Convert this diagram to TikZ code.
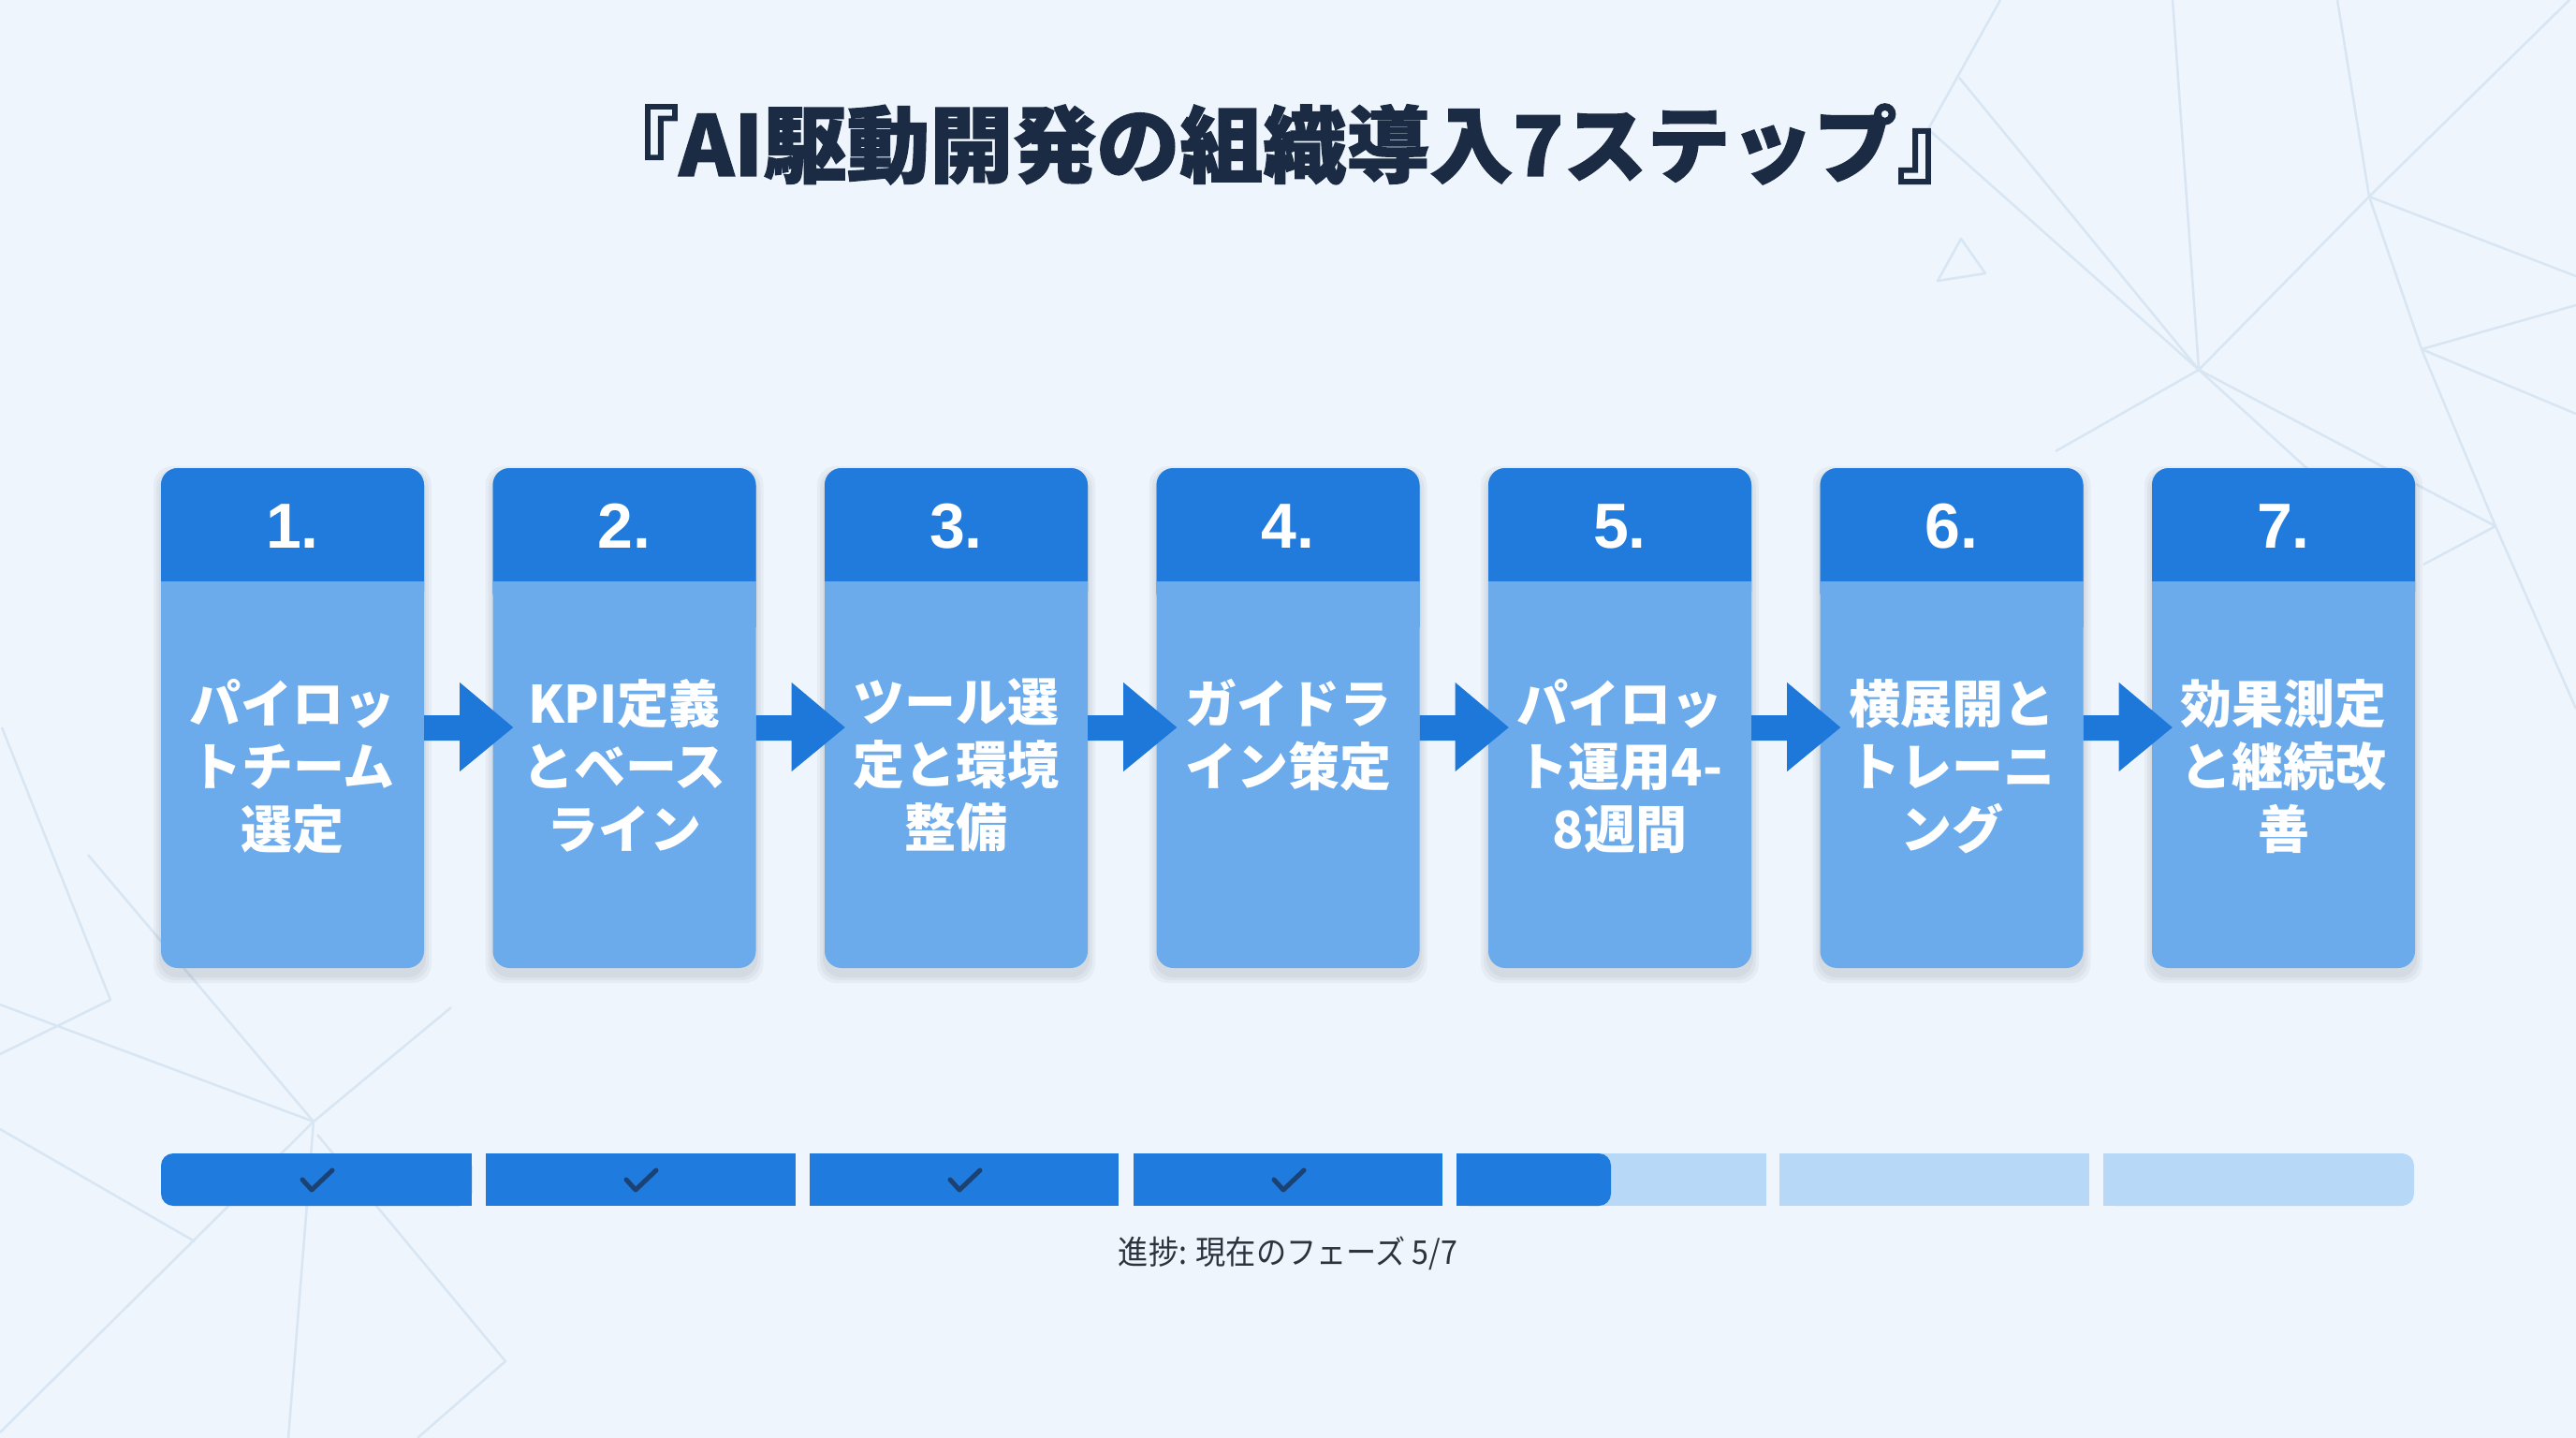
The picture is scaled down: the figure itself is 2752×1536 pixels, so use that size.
\documentclass[tikz,border=0pt]{standalone}
\usepackage{fontspec}
\usetikzlibrary{calc}
\newfontfamily\jp{Noto Sans CJK JP}
\newfontfamily\jpt{Noto Sans CJK JP}[BoldFeatures={FakeBold=1.5}]
\newfontfamily\jpn{Noto Sans CJK JP}[FakeStretch=0.92]
\newfontfamily\numfont{Liberation Sans}
\definecolor{bg}{RGB}{238,245,252}
\definecolor{hdr}{RGB}{33,123,220}
\definecolor{bodyc}{RGB}{107,171,236}
\definecolor{arr}{RGB}{30,120,218}
\definecolor{pdark}{RGB}{31,123,221}
\definecolor{plight}{RGB}{184,216,248}
\definecolor{ttl}{RGB}{28,43,68}
\definecolor{lbl}{RGB}{45,50,60}
\definecolor{chk}{RGB}{28,66,115}
\definecolor{bgl}{RGB}{216,229,243}
\tikzset{
  bgline/.style={draw=bgl, line width=2.5pt, line join=round},
  boxn/.style={rectangle, minimum width=281pt, minimum height=534pt, inner sep=0pt},
  numtxt/.style={text=white, font=\numfont\bfseries\fontsize{68}{76}\selectfont, inner sep=0pt},
  bodytxt/.style={text=white, font=\jp\bfseries\fontsize{55}{67}\selectfont, align=center, inner sep=0pt, anchor=north},
  stepshadow/.style={fill=black, opacity=0.035},
  arrowfill/.style={fill=arr},
}
\begin{document}
\begin{tikzpicture}[x=1pt,y=-1pt]
\useasboundingbox (0,0) rectangle (2752,1536);
\fill[bg] (0,0) rectangle (2752,1536);
% background network lines
\draw[bgline] (2137,0) -- (2060,138);
\draw[bgline] (2093,83) -- (2349,395);
\draw[bgline] (2060,138) -- (2349,395);
\draw[bgline] (2321,0) -- (2349,395);
\draw[bgline] (2497,0) -- (2531,210);
\draw[bgline] (2745,0) -- (2531,210);
\draw[bgline] (2531,210) -- (2349,395);
\draw[bgline] (2531,210) -- (2752,295);
\draw[bgline] (2531,210) -- (2587,373) -- (2666,562) -- (2752,757);
\draw[bgline] (2587,373) -- (2752,326);
\draw[bgline] (2587,373) -- (2752,442);
\draw[bgline] (2349,395) -- (2196,482);
\draw[bgline] (2349,395) -- (2530,560);
\draw[bgline] (2349,395) -- (2666,562) -- (2589,603);
\draw[bgline] (2095,255) -- (2121,292) -- (2070,300) -- cycle;
\draw[bgline] (2,777) -- (118,1068) -- (0,1126);
\draw[bgline] (0,1073) -- (335,1198);
\draw[bgline] (94,913) -- (335,1198);
\draw[bgline] (335,1198) -- (482,1076);
\draw[bgline] (0,1206) -- (208,1326);
\draw[bgline] (335,1198) -- (0,1530);
\draw[bgline] (335,1198) -- (308,1536);
\draw[bgline] (339,1212) -- (540,1454) -- (446,1536);
% title
\node[text=ttl, font=\jpt\bfseries\fontsize{89}{100}\selectfont, inner sep=0pt] (title) at (1376,154) {『AI駆動開発の組織導入7ステップ』};
% step boxes
\foreach \i/\txt in {1/{パイロッ\\トチーム\\選定},2/{KPI定義\\とベース\\ライン},3/{ツール選\\定と環境\\整備},4/{ガイドラ\\イン策定},5/{パイロッ\\ト運用4-\\8週間},6/{横展開と\\トレーニ\\ング},7/{効果測定\\と継続改\\善}}{
  \pgfmathsetmacro\xl{172+(\i-1)*354.5}
  \pgfmathsetmacro\xr{\xl+281}
  \pgfmathsetmacro\xc{\xl+140.5}
  \foreach \e in {2,5,8}{
    \fill[stepshadow, rounded corners=20] (\xl-\e,506-\e) rectangle (\xr+\e,1042+\e);
  }
  \fill[bodyc, rounded corners=18] (\xl,500) rectangle (\xr,1034);
  \fill[hdr, rounded corners=18] (\xl,500) rectangle (\xr,650);
  \fill[bodyc] (\xl,621) rectangle (\xr,670);
  \node[boxn] (s\i) at (\xc,767) {};
  \node[numtxt] (n\i) at (\xc,562) {\i.};
  \node[bodytxt] (t\i) at (\xc,725) {\txt};
}
% arrows between steps
\foreach \i [evaluate=\i as \j using int(\i+1)] in {1,...,6}{
  \fill[arrowfill] ($(s\i.east)+(0,-3)$) -- ($(s\i.east)+(38,-3)$) -- ($(s\i.east)+(38,-38)$)
     -- ($(s\j.west)+(22,10)$) -- ($(s\i.east)+(38,57)$) -- ($(s\i.east)+(38,24)$) -- ($(s\i.east)+(0,24)$) -- cycle;
}
% progress bar
\fill[pdark, rounded corners=13] (172,1232) rectangle (504,1288);
\fill[pdark] (200,1232) rectangle (504,1288);
\fill[pdark] (519,1232) rectangle (850,1288);
\fill[pdark] (865,1232) rectangle (1195,1288);
\fill[pdark] (1211,1232) rectangle (1541,1288);
\fill[plight] (1556,1232) rectangle (1887,1288);
\fill[pdark, rounded corners=13] (1556,1232) rectangle (1721,1288);
\fill[pdark] (1556,1232) rectangle (1700,1288);
\fill[plight] (1901,1232) rectangle (2232,1288);
\fill[plight, rounded corners=13] (2247,1232) rectangle (2579,1288);
\fill[plight] (2247,1232) rectangle (2550,1288);
\foreach \c in {338,684,1030,1376}{
  \draw[chk, line width=5pt, line cap=round, line join=round] (\c-15,1260) -- (\c-5,1271) -- (\c+17,1250);
}
\node[text=lbl, font=\jpn\fontsize{35}{40}\selectfont, inner sep=0pt] (progress) at (1376,1339) {進捗: 現在のフェーズ 5/7};
\end{tikzpicture}
\end{document}
